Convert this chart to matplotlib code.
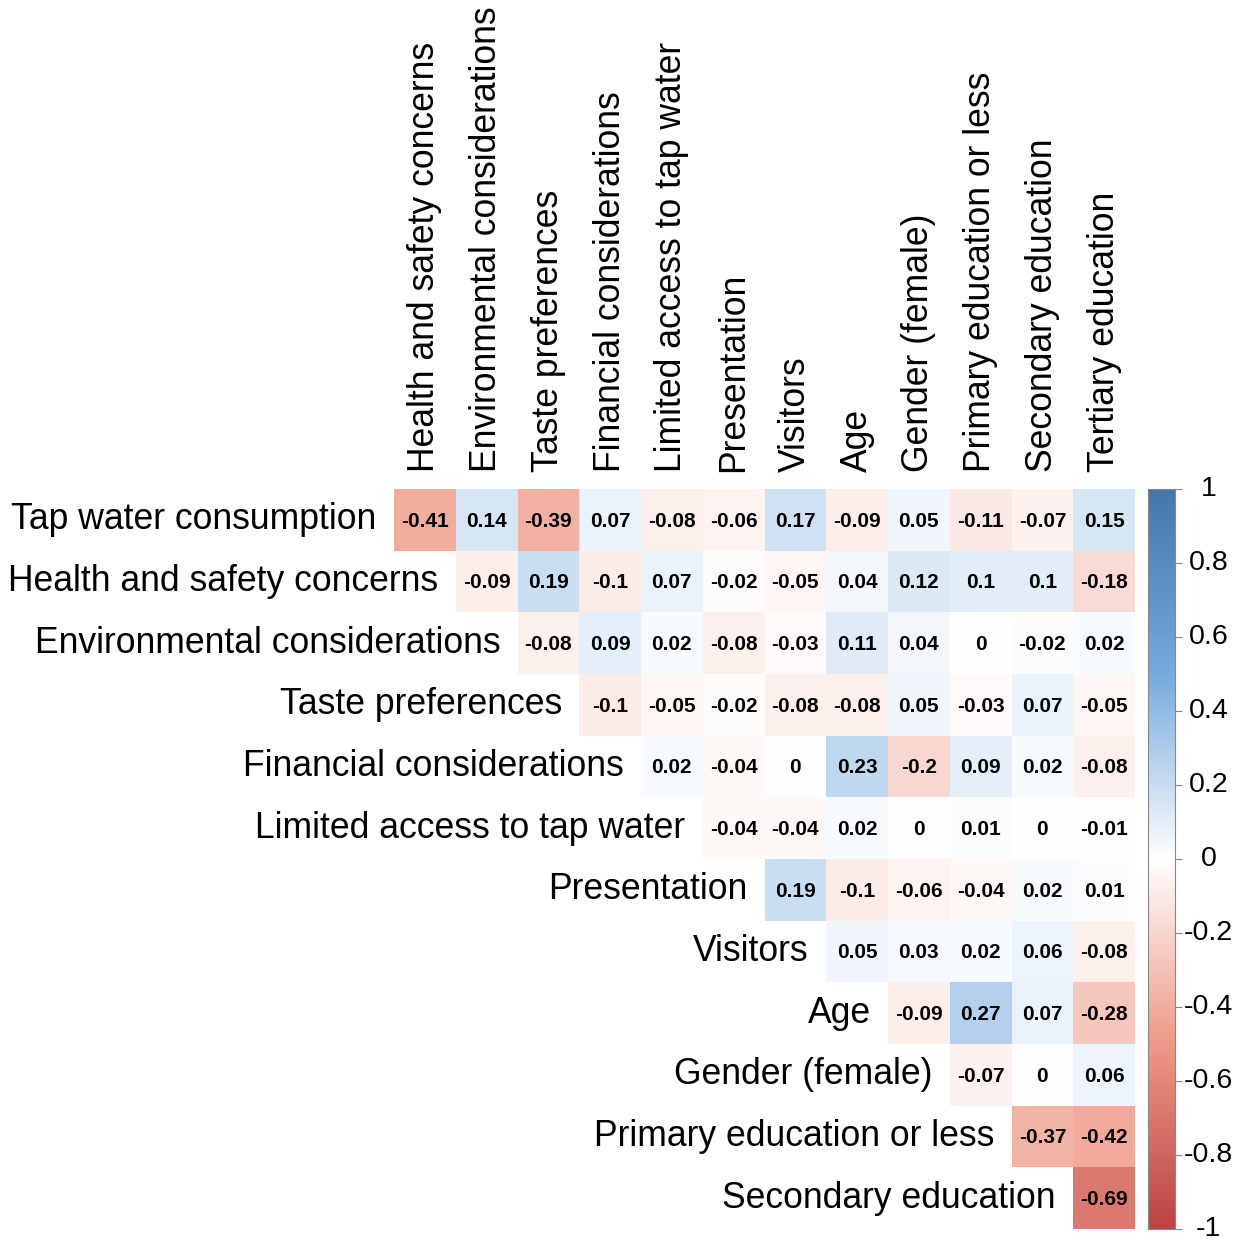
import numpy as np
import matplotlib
matplotlib.use("Agg")
import matplotlib.pyplot as plt
from matplotlib.colors import LinearSegmentedColormap
from matplotlib.transforms import blended_transform_factory

plt.rcParams['font.family'] = ['Liberation Sans', 'DejaVu Sans']

row_labels = ["Tap water consumption", "Health and safety concerns",
              "Environmental considerations", "Taste preferences",
              "Financial considerations", "Limited access to tap water",
              "Presentation", "Visitors", "Age", "Gender (female)",
              "Primary education or less", "Secondary education"]
col_labels = ["Health and safety concerns", "Environmental considerations",
              "Taste preferences", "Financial considerations",
              "Limited access to tap water", "Presentation", "Visitors", "Age",
              "Gender (female)", "Primary education or less",
              "Secondary education", "Tertiary education"]

# upper triangle, row i starts at column i
tap_water = [-0.41, 0.14, -0.39, 0.07, -0.08, -0.06, 0.17, -0.09, 0.05, -0.11, -0.07, 0.15]
health = [-0.09, 0.19, -0.1, 0.07, -0.02, -0.05, 0.04, 0.12, 0.1, 0.1, -0.18]
environment = [-0.08, 0.09, 0.02, -0.08, -0.03, 0.11, 0.04, 0, -0.02, 0.02]
taste = [-0.1, -0.05, -0.02, -0.08, -0.08, 0.05, -0.03, 0.07, -0.05]
financial = [0.02, -0.04, 0, 0.23, -0.2, 0.09, 0.02, -0.08]
limited_access = [-0.04, -0.04, 0.02, 0, 0.01, 0, -0.01]
presentation = [0.19, -0.1, -0.06, -0.04, 0.02, 0.01]
visitors = [0.05, 0.03, 0.02, 0.06, -0.08]
age = [-0.09, 0.27, 0.07, -0.28]
gender = [-0.07, 0, 0.06]
primary_edu = [-0.37, -0.42]
secondary_edu = [-0.69]

rows = [tap_water, health, environment, taste, financial, limited_access,
        presentation, visitors, age, gender, primary_edu, secondary_edu]

cbar_ticks = [1, 0.8, 0.6, 0.4, 0.2, 0, -0.2, -0.4, -0.6, -0.8, -1]

n = len(rows)
mat = np.full((n, n), np.nan)
for i, r in enumerate(rows):
    mat[i, i:] = r
mat = np.ma.masked_invalid(mat)

cmap = LinearSegmentedColormap.from_list(
    "corr", ["#BB4444", "#EE9988", "#FFFFFF", "#77AADD", "#4477AA"], N=200)

W, H = 1250, 1240
fig = plt.figure(figsize=(W / 100, H / 100), dpi=100)
ax = fig.add_axes([394 / W, 1 - 1229 / H, 741 / W, 740 / H])
ax.pcolormesh(np.arange(n + 1), np.arange(n + 1), mat, cmap=cmap, vmin=-1, vmax=1)
ax.set_xlim(0, n)
ax.set_ylim(n, 0)
ax.axis('off')

for i, r in enumerate(rows):
    for k, v in enumerate(r):
        j = i + k
        ax.text(j + 0.5, i + 0.52, f"{v:g}", ha='center', va='center',
                fontsize=15, fontweight='bold', color='black')
    ax.text(i - 0.28, i + 0.5, row_labels[i], ha='right', va='center', fontsize=25.6)

for j, lab in enumerate(col_labels):
    ax.text(j + 0.5, -0.27, lab, rotation=90, ha='center', va='bottom', fontsize=25.6)

# colour legend
cax = fig.add_axes([1148 / W, 1 - 1229 / H, 27 / W, 740 / H])
grad = np.linspace(-1, 1, 400).reshape(-1, 1)
cax.imshow(grad, cmap=cmap, vmin=-1, vmax=1, aspect='auto', origin='lower',
           extent=[0, 1, -1, 1])
cax.set_xlim(0, 1)
cax.set_ylim(-1, 1)
cax.set_xticks([])
cax.yaxis.tick_right()
cax.set_yticks(cbar_ticks)
cax.set_yticklabels([])
cax.tick_params(axis='y', length=5, color='#888888')
for s in cax.spines.values():
    s.set_color('#888888')
    s.set_linewidth(0.8)
tr = blended_transform_factory(cax.transAxes, cax.transData)
for t in cbar_ticks:
    cax.text(2.25, t, f"{t:g}", transform=tr, ha='center', va='center', fontsize=20.5)

fig.savefig("out.png", dpi=100, facecolor='white')
